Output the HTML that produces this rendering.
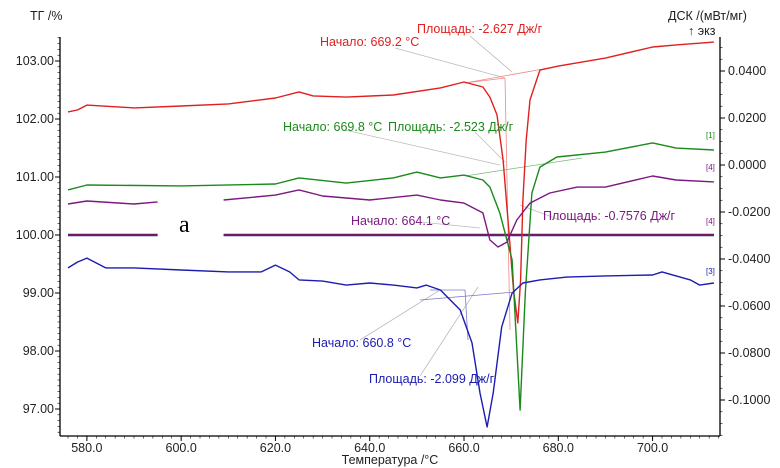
<!DOCTYPE html>
<html><head><meta charset="utf-8"><style>
html,body{margin:0;padding:0;background:#fff;width:780px;height:468px;overflow:hidden}
svg{display:block;font-family:"Liberation Sans",sans-serif}
</style></head><body>
<svg id="chart" width="780" height="468" viewBox="0 0 780 468"></svg>
<script>
const xTicks=[580,600,620,640,660,680,700];
const tgTicks=[97,98,99,100,101,102,103];
const dscTicks=[0.04,0.02,0,-0.02,-0.04,-0.06,-0.08,-0.10];
const redT=[576,578,580,590,600,610,620,625,628,635,645,655,660,664,665.5,667,668.3,669.5,670.5,671.4,672,672.5,673.2,674,676.1,680,690,700,705,713];
const redV=[0.0226,0.0234,0.0255,0.0243,0.0251,0.026,0.0285,0.0311,0.0294,0.0289,0.0298,0.0328,0.0353,0.0332,0.0289,0.0213,0.0021,-0.0277,-0.0532,-0.0672,-0.0489,-0.0149,0.0106,0.0277,0.0404,0.0421,0.0455,0.0502,0.0511,0.0523];
const greenT=[576,580,600,620,625,635,645,650,655,660,664,665.5,667.6,670.2,671.9,673,674.4,676.1,679.7,690,700,705,713];
const greenV=[-0.0106,-0.0085,-0.0089,-0.0081,-0.0055,-0.0077,-0.0055,-0.003,-0.0055,-0.0043,-0.0064,-0.0094,-0.0204,-0.0404,-0.1043,-0.0545,-0.0119,-0.0009,0.0034,0.0055,0.0094,0.0072,0.0064];
const purpleT1=[576,580,590,595];
const purpleV1=[-0.0166,-0.0153,-0.0166,-0.0157];
const purpleT2=[609,620,625,630,640,650,655,660,664,665.5,667.2,669.1,671.2,674,678.2,684,690,700,705,713];
const purpleV2=[-0.0149,-0.0128,-0.0106,-0.0132,-0.0149,-0.0128,-0.0149,-0.0162,-0.0204,-0.0319,-0.0349,-0.0328,-0.0234,-0.0162,-0.0119,-0.0094,-0.0094,-0.0047,-0.0064,-0.0072];
const blueT=[576,578,580,584,590,600,610,617,620,623,625,630,635,640,645,650,652,655,659.2,661.7,663.4,664.9,666.2,668,670.2,672.5,676.1,681.8,690,700,702,708,710,713];
const blueV=[-0.0438,-0.0413,-0.0396,-0.0438,-0.0438,-0.0447,-0.0455,-0.0455,-0.0426,-0.0455,-0.0489,-0.0494,-0.0511,-0.0502,-0.0511,-0.0523,-0.0511,-0.0532,-0.0617,-0.0757,-0.097,-0.1115,-0.097,-0.0689,-0.0545,-0.0502,-0.0489,-0.0477,-0.0472,-0.0468,-0.0455,-0.0489,-0.0511,-0.0502];
const tgFlatT1=[576,595];
const tgFlatT2=[609,713];
const tgFlatV=100;

const svg=document.getElementById('chart');
const NS='http://www.w3.org/2000/svg';
const X0=60,X1=720,T0=574.3,T1=714.3;
const xs=t=>X0+(t-T0)*(X1-X0)/(T1-T0);
const yTG=v=>235-(v-100)*58;
const yD=v=>165-v*2350;
function el(tag,attrs,parent){const e=document.createElementNS(NS,tag);for(const k in attrs)e.setAttribute(k,attrs[k]);(parent||svg).appendChild(e);return e;}
function txt(s,x,y,attrs){const e=el('text',Object.assign({x:x,y:y,'font-size':12.5},attrs||{}));e.textContent=s;return e;}

const ax=el('g',{});


el('line',{x1:X0,y1:37,x2:X0,y2:436,stroke:'#000','stroke-width':1.3},ax);
el('line',{x1:X1,y1:37,x2:X1,y2:436,stroke:'#000','stroke-width':1.3},ax);
el('line',{x1:X0,y1:436,x2:X1,y2:436,stroke:'#000','stroke-width':1.3},ax);
xTicks.forEach(t=>{
  el('line',{x1:xs(t),y1:436,x2:xs(t),y2:441,stroke:'#000'},ax);
  const l=txt(t.toFixed(1),xs(t),452,{'text-anchor':'middle','fill':'#222'});
  
  
});
for(let t=576;t<=714;t+=2){el('line',{x1:xs(t),y1:436,x2:xs(t),y2:438.5,stroke:'#000','stroke-width':0.6},ax);}
tgTicks.forEach(v=>{
  el('line',{x1:X0-5,y1:yTG(v),x2:X0,y2:yTG(v),stroke:'#000'},ax);
  const l=txt(v.toFixed(2),X0-6,yTG(v)+4,{'text-anchor':'end','fill':'#222'});
  
  
});
for(let v=96.6;v<=103.4;v+=0.1){el('line',{x1:X0-2.5,y1:yTG(v),x2:X0,y2:yTG(v),stroke:'#000','stroke-width':0.6},ax);}
dscTicks.forEach(v=>{
  el('line',{x1:X1,y1:yD(v),x2:X1+5,y2:yD(v),stroke:'#000'},ax);
  const l=txt(v.toFixed(4),X1+8,yD(v)+4,{'fill':'#222'});
  
  
});
for(let v=-0.115;v<=0.053;v+=0.005){el('line',{x1:X1,y1:yD(v),x2:X1+2.5,y2:yD(v),stroke:'#000','stroke-width':0.6},ax);}

let t;
t=txt('ТГ /%',30,20,{'fill':'#222'});
t=txt('ДСК /(мВт/мг)',668,20,{'fill':'#222'});
t=txt('↑ экз',688,35,{'fill':'#222'});
t=txt('Температура /°C',390,464,{'text-anchor':'middle','fill':'#222'});

const leaders=[[395,48,505,78,'#bbb'],[470,36,512,72,'#bbb'],[345,130,500,165,'#bbb'],[475,132,505,162,'#bbb'],[420,222,480,228,'#bbb'],[560,220,520,205,'#bbb'],[360,340,440,290,'#bbb'],[420,376,478,287,'#bbb'],
[465,83,560,66,'#e88'],[465,83,505,78,'#e88'],[505,78,510,330,'#e88'],[465,176,582,158,'#7b7'],[420,300,515,292,'#77c'],[430,290,465,290,'#77c'],[465,290,468,340,'#77c']];
leaders.forEach(a=>{const l=el('line',{x1:a[0],y1:a[1],x2:a[2],y2:a[3],stroke:a[4],'stroke-width':0.8});});

function series(T,V,color,name,yf,w){
  const d=T.map((tt,i)=>(i?'L':'M')+xs(tt).toFixed(1)+' '+yf(V[i]).toFixed(1)).join(' ');
  const p=el('path',{d:d,fill:'none',stroke:color,'stroke-width':w||1.4,'stroke-linejoin':'round'});
  
  
}
[[tgFlatT1],[tgFlatT2]].forEach(r=>{
  const T=r[0];
  series(T,T.map(()=>tgFlatV),'#22b','tg-line-blue',yTG,2.6);
  series(T,T.map(()=>tgFlatV),'#8b1a3a','tg-line-red',yTG,1.6);
});
series(redT,redV,'#e02020','dsc-curve-red',yD);
series(greenT,greenV,'#1a8a1a','dsc-curve-green',yD);
series(purpleT1,purpleV1,'#7a1a80','dsc-curve-purple',yD);
series(purpleT2,purpleV2,'#7a1a80','dsc-curve-purple-2',yD);
series(blueT,blueV,'#1c1cb0','dsc-curve-blue',yD);

const labels=[['Начало: 669.2 °C',320,46,'#e02020'],['Площадь: -2.627 Дж/г',417,33,'#e02020'],['Начало: 669.8 °C',283,131,'#1a8a1a'],['Площадь: -2.523 Дж/г',388,131,'#1a8a1a'],
['Начало: 664.1 °C',351,225,'#7a1a80'],['Площадь: -0.7576 Дж/г',543,220,'#7a1a80'],['Начало: 660.8 °C',312,347,'#1c1cb0'],['Площадь: -2.099 Дж/г',369,383,'#1c1cb0']];
labels.forEach(a=>{const l=txt(a[0],a[1],a[2],{fill:a[3]});});
const tags=[['[1]',706,138,'#1a8a1a'],['[4]',706,170,'#7a1a80'],['[4]',706,224,'#7a1a80'],['[3]',706,274,'#1c1cb0']];
tags.forEach(a=>{const l=txt(a[0],a[1],a[2],{fill:a[3],'font-size':8});});
t=txt('a',179,232,{'font-size':24,'font-family':'Liberation Serif, serif','fill':'#000'});
</script>
</body></html>
